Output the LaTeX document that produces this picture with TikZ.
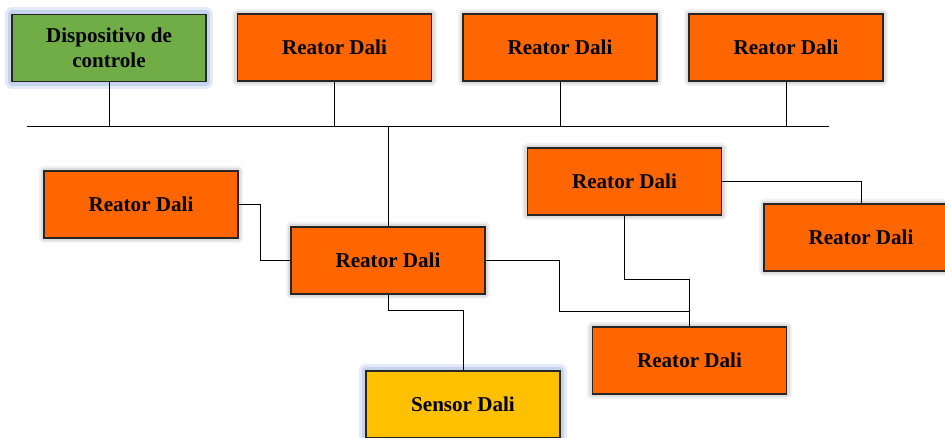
\documentclass[tikz,border=0pt]{standalone}
\usepackage{fontspec}
\setmainfont{Liberation Serif}

\definecolor{reatorfill}{HTML}{FF6600}
\definecolor{ctrlfill}{HTML}{70AD47}
\definecolor{sensorfill}{HTML}{FFC000}
\definecolor{glow}{HTML}{8FAADC}

\begin{document}
\begin{tikzpicture}[x=0.02cm, y=-0.02cm,
    box/.style={draw=black!85, line width=0.7pt, minimum width=3.88cm, minimum height=1.34cm,
        inner sep=0pt, align=center, font=\bfseries\fontsize{12}{14}\selectfont},
    reator/.style={box, fill=reatorfill,
        preaction={draw=black, draw opacity=0.06, line width=6pt, line join=round},
        preaction={draw=black, draw opacity=0.08, line width=3.5pt, line join=round}},
    blueglow/.style={box,
        preaction={draw=glow, draw opacity=0.25, line width=8pt, line join=round},
        preaction={draw=glow, draw opacity=0.35, line width=5pt, line join=round}},
    wire/.style={draw=black, line width=0.5pt}]
\useasboundingbox (0,0) rectangle (945,437);

% bus
\coordinate (busL) at (27,126);
\coordinate (busR) at (829,126);
\draw[wire] (busL) -- (busR);

% units on the bus
\node[blueglow, fill=ctrlfill] (ctrl) at (109,48) {Dispositivo de\\controle};
\node[reator] (r1) at (334.5,47.5) {Reator Dali};
\node[reator] (r2) at (560,47.5) {Reator Dali};
\node[reator] (r3) at (786,47.5) {Reator Dali};

% units below
\node[reator] (left) at (141,204.5) {Reator Dali};
\node[reator] (mid) at (388,260.5) {Reator Dali};
\node[reator] (ru) at (624.5,181.5) {Reator Dali};
\node[reator] (fr) at (861,237.5) {Reator Dali};
\node[reator] (lr) at (689.5,360.5) {Reator Dali};
\node[blueglow, fill=sensorfill] (sensor) at (463,404.5) {Sensor Dali};

\coordinate (j) at (689.5,311);

\foreach \n in {ctrl,r1,r2,r3}
    \draw[wire] (\n.south) -- (\n.south |- busL);
\draw[wire] (mid.north) -- (mid.north |- busL);
\draw[wire] (left.east) -- ++(22,0) |- (mid.west);
\draw[wire] (mid.east) -- ++(74,0) |- (j) -- (lr.north);
\draw[wire] (ru.south) -- ++(0,64) -| (j);
\draw[wire] (ru.east) -| (fr.north);
\draw[wire] (mid.south) -- ++(0,16) -| (sensor.north);
\end{tikzpicture}
\end{document}
